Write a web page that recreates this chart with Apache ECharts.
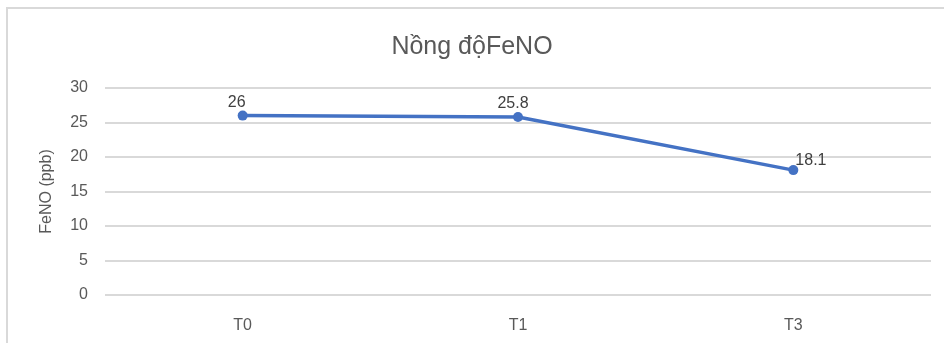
<!DOCTYPE html>
<html>
<head>
<meta charset="utf-8">
<script src="https://cdn.jsdelivr.net/npm/echarts@6/dist/echarts.min.js"></script>
<style>html,body{margin:0;padding:0;background:#fff}#c{width:944px;height:343px}</style>
</head>
<body>
<div id="c"></div>
<script>
var categories = ['T0', 'T1', 'T3'];
var fenoValues = [26, 25.8, 18.1];
var yTicks = [0, 5, 10, 15, 20, 25, 30];
var titleText = 'Nồng độFeNO';
var yAxisName = 'FeNO (ppb)';

var FONT = '"Liberation Sans", sans-serif';
var labelPos = [
  {position: 'top', offset: [-6, 5]},
  {position: 'top', offset: [-5, 5]},
  {position: 'right', offset: [-8, -10]}
];
var chart = echarts.init(document.getElementById('c'));
chart.setOption({
  animation: false,
  backgroundColor: '#fff',
  graphic: [{
    type: 'rect', shape: {x: 7, y: 8, width: 1000, height: 400},
    style: {fill: 'none', stroke: '#d9d9d9', lineWidth: 2}, silent: true
  }],
  title: {
    text: titleText, left: 'center', top: 30,
    textStyle: {fontFamily: FONT, fontSize: 25, fontWeight: 'normal', color: '#595959'}
  },
  grid: {left: 105, right: 13, top: 88, bottom: 48},
  xAxis: {
    type: 'category', data: categories, boundaryGap: true,
    axisLine: {show: false}, axisTick: {show: false},
    axisLabel: {fontFamily: FONT, fontSize: 16, color: '#595959', margin: 23}
  },
  yAxis: {
    type: 'value', min: yTicks[0], max: yTicks[yTicks.length - 1], interval: yTicks[1] - yTicks[0],
    name: yAxisName, nameLocation: 'middle', nameGap: 50, nameRotate: 90,
    nameTextStyle: {fontFamily: FONT, fontSize: 16, color: '#595959'},
    axisLine: {show: false}, axisTick: {show: false},
    axisLabel: {fontFamily: FONT, fontSize: 16, color: '#595959', margin: 17},
    splitLine: {lineStyle: {color: '#d9d9d9', width: 2}}
  },
  series: [{
    type: 'line',
    data: fenoValues.map(function (v, i) {
      return {value: v, label: labelPos[i]};
    }),
    symbol: 'circle', symbolSize: 10,
    lineStyle: {color: '#4472C4', width: 3.5},
    itemStyle: {color: '#4472C4'},
    label: {show: true, fontFamily: FONT, fontSize: 16, color: '#404040'}
  }]
});
</script>
</body>
</html>
